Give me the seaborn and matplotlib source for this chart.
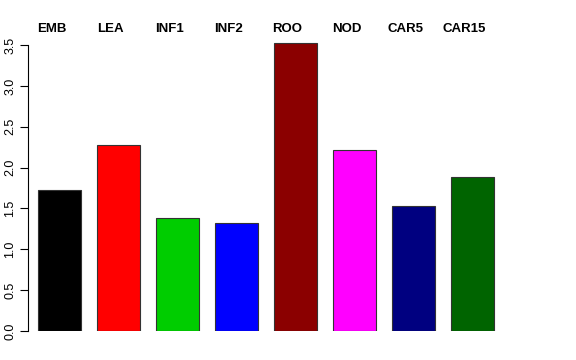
import matplotlib
matplotlib.use("Agg")
import matplotlib.pyplot as plt
import seaborn as sns
import pandas as pd

categories = ["EMB", "LEA", "INF1", "INF2", "ROO", "NOD", "CAR5", "CAR15"]
values = [1.72, 2.28, 1.38, 1.32, 3.53, 2.22, 1.53, 1.88]
colors = ["#000000", "#FF0000", "#00CD00", "#0000FF", "#8B0000", "#FF00FF", "#000080", "#006400"]
yticks = [0.0, 0.5, 1.0, 1.5, 2.0, 2.5, 3.0, 3.5]

sns.set_theme(style="white")
plt.rcParams["font.family"] = ["Liberation Sans", "DejaVu Sans"]
plt.rcParams["text.color"] = "black"
plt.rcParams["xtick.color"] = "black"
plt.rcParams["ytick.color"] = "black"

df = pd.DataFrame({"cat": categories, "val": values})

fig = plt.figure(figsize=(5.76, 3.6), dpi=100)
W, H = 576, 360
left_px, right_px = 28, 560
bottom_px, top_px = 331, 37
ax = fig.add_axes([left_px / W, (H - bottom_px) / H, (right_px - left_px) / W, (bottom_px - top_px) / H])

sns.barplot(data=df, x="cat", y="val", hue="cat", palette=colors, dodge=False,
            legend=False, width=0.72, edgecolor="#333333", linewidth=0.8, ax=ax,
            order=categories, hue_order=categories, saturation=1)

unit = 59.0
ax.set_xlim(-(59.5 - left_px) / unit, (right_px - 59.5) / unit)
ax.set_ylim(0, (bottom_px - top_px) / 81.7)

for s in ["top", "right", "bottom"]:
    ax.spines[s].set_visible(False)
ax.spines["left"].set_color("black")
ax.spines["left"].set_linewidth(0.8)
ax.spines["left"].set_bounds(0, 3.5)

ax.set_yticks(yticks)
ax.set_yticklabels([f"{t:.1f}" for t in yticks], rotation=90, va="center", fontsize=9)
ax.tick_params(axis="y", direction="out", length=5.5, width=0.8, color="black", pad=3, left=True)

# top labels, shifted slightly left of the bar centres as in the reference
label_pos = [i - 8 / unit for i in range(len(categories))]
ax.xaxis.tick_top()
ax.set_xticks(label_pos)
ax.set_xticklabels(categories, fontweight="bold", fontsize=9.5, color="black")
ax.tick_params(axis="x", length=0, pad=1.5)
ax.set_xlabel("")
ax.set_ylabel("")
ax.grid(False)

fig.savefig("out.png", dpi=100)
